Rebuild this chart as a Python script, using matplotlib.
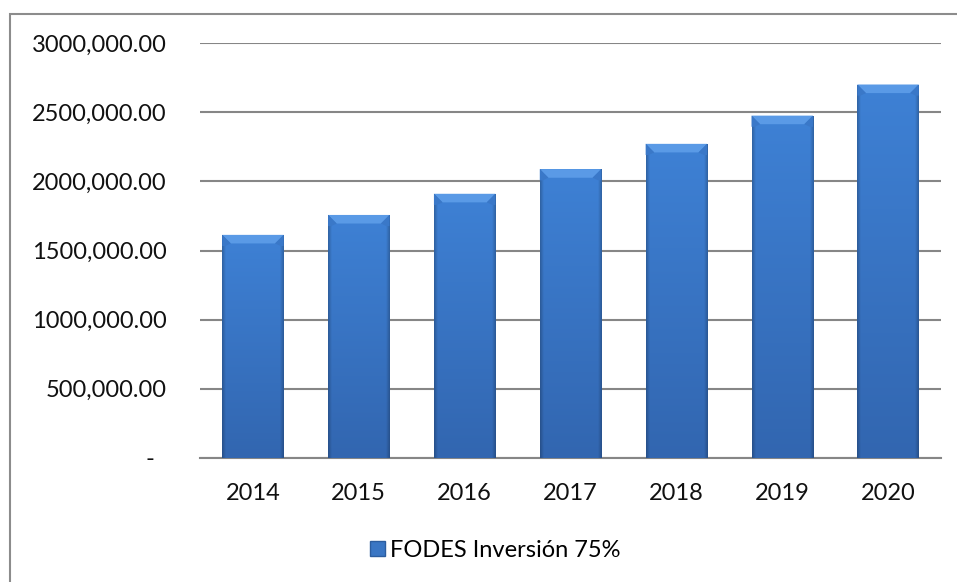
import numpy as np
import matplotlib.pyplot as plt
from matplotlib.colors import to_rgb
from matplotlib.patches import Polygon, Rectangle, Patch

years = ['2014', '2015', '2016', '2017', '2018', '2019', '2020']
valores = [1613, 1757, 1910, 2088, 2271, 2475, 2700]
yticks = [0, 500, 1000, 1500, 2000, 2500, 3000]
ytick_labels = ['-  ', '500,000.00', '1000,000.00', '1500,000.00',
                '2000,000.00', '2500,000.00', '3000,000.00']
serie = 'FODES Inversión 75%'

plt.rcParams['font.family'] = ['Lato', 'DejaVu Sans']

fig = plt.figure(figsize=(9.57, 5.82), dpi=100)
ax = fig.add_axes([200 / 957, 1 - 458 / 582, 741 / 957, (458 - 43) / 582])

# marco del grafico (solo se ven arriba e izquierda)
fig.add_artist(Rectangle((10 / 957, -0.1), 1.2, 1 - 14 / 582 + 0.1, transform=fig.transFigure,
                         fill=False, edgecolor='#8c8c8c', linewidth=1.5))

x = np.arange(len(years))
bars = ax.bar(x, valores, width=0.58, color='#3a76c4', zorder=3)

# relleno: degradado vertical + bordes laterales algo mas oscuros
top_c = np.array(to_rgb('#3e81d5'))
bot_c = np.array(to_rgb('#3266b0'))
t = np.linspace(0, 1, 200)[:, None, None]
u = np.linspace(0, 1, 100)[None, :, None]
base = top_c * (1 - t) + bot_c * t
edge = np.clip(1 - np.minimum(u, 1 - u) / 0.06, 0, 1)
img = base * (1 - 0.22 * edge)

bh = 62    # alto del biselado, en unidades de datos (~9 px)
bw = 0.14  # fraccion del ancho para las esquinas
for b in bars:
    x0, w, h = b.get_x(), b.get_width(), b.get_height()
    im = ax.imshow(img, extent=[x0, x0 + w, 0, h], aspect='auto', zorder=3, origin='upper')
    im.set_clip_path(b)
    # biselado superior
    ax.add_patch(Polygon([[x0, h], [x0 + w, h], [x0 + w * (1 - bw), h - bh], [x0 + w * bw, h - bh]],
                         closed=True, facecolor='#5a9ae6', edgecolor='none', zorder=4))
    ax.add_patch(Polygon([[x0, h], [x0 + w * bw, h - bh], [x0 + w * 0.05, h - bh * 1.3], [x0, h - bh * 1.3]],
                         closed=True, facecolor='#3a78c8', edgecolor='none', zorder=4))
    ax.add_patch(Polygon([[x0 + w, h], [x0 + w * (1 - bw), h - bh], [x0 + w * 0.95, h - bh * 1.3], [x0 + w, h - bh * 1.3]],
                         closed=True, facecolor='#3a78c8', edgecolor='none', zorder=4))

ax.set_xlim(-0.5, len(years) - 0.5)
ax.set_ylim(0, 3000)
ax.set_xticks(x)
ax.set_xticklabels(years)
ax.set_yticks(yticks)
ax.set_yticklabels(ytick_labels)
ax.tick_params(axis='both', length=0, labelsize=17, colors='#111111')
ax.tick_params(axis='y', pad=24)
ax.tick_params(axis='x', pad=18)
ax.grid(axis='y', color='#868686', linewidth=1.5, zorder=0)
for s in ['top', 'right', 'left']:
    ax.spines[s].set_visible(False)
ax.spines['bottom'].set_color('#868686')
ax.spines['bottom'].set_linewidth(1.5)

ax.legend(handles=[Patch(facecolor='#3a76c4', edgecolor='#2c5d9f', label=serie)],
          loc='center', bbox_to_anchor=(0.399, -0.223), frameon=False, fontsize=17,
          handlelength=0.6, handleheight=0.6, handletextpad=0.25)

fig.savefig('out.png', dpi=100)
